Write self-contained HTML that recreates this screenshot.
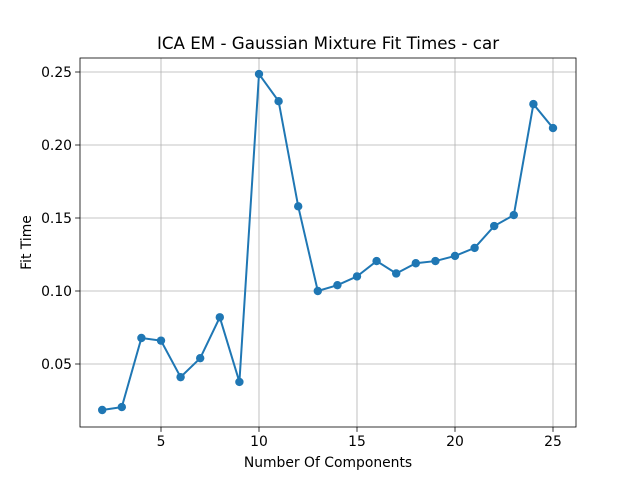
<!DOCTYPE html>
<html><head><meta charset="utf-8"><style>
html,body{margin:0;padding:0;background:#fff;}
svg{display:block;font-family:"DejaVu Sans","Liberation Sans",sans-serif;}
</style></head><body>
<svg id="c" width="640" height="480" viewBox="0 0 640 480"></svg>
<script>
const components=[2,3,4,5,6,7,8,9,10,11,12,13,14,15,16,17,18,19,20,21,22,23,24,25];
const fitTimes=[0.0185,0.0205,0.0678,0.066,0.041,0.054,0.082,0.0377,0.2486,0.230,0.158,0.100,0.104,0.110,0.1205,0.112,0.119,0.1205,0.124,0.1295,0.1445,0.152,0.228,0.2116];
const xTicks=[5,10,15,20,25];
const yTicks=[0.05,0.10,0.15,0.20,0.25];
const yTickLabels=["0.05","0.10","0.15","0.20","0.25"];

const L=80,R=576,T=58,B=427;
function xs(v){return 161+(v-5)*19.6;}
function ys(v){return 72+(0.25-v)*1460;}
const svg=document.getElementById('c');
const NS='http://www.w3.org/2000/svg';
function mk(tag,attrs,parent){const e=document.createElementNS(NS,tag);for(const k in attrs)e.setAttribute(k,attrs[k]);(parent||svg).appendChild(e);return e;}

const grid=mk('g',{});


xTicks.forEach(t=>{
  const x=xs(t);
  mk('line',{x1:x,x2:x,y1:T,y2:B,stroke:'#b0b0b0','stroke-width':0.8},grid);
  const tk=mk('line',{x1:x,x2:x,y1:B,y2:B+4.9,stroke:'#000','stroke-width':0.8});
  
  
  const lb=mk('text',{x:x,y:B+19,'text-anchor':'middle','font-size':13.9,fill:'#000'});
  lb.textContent=t;
  
  
});
yTicks.forEach((t,i)=>{
  const y=ys(t);
  mk('line',{x1:L,x2:R,y1:y,y2:y,stroke:'#b0b0b0','stroke-width':0.8},grid);
  const tk=mk('line',{x1:L-4.9,x2:L,y1:y,y2:y,stroke:'#000','stroke-width':0.8});
  
  
  const lb=mk('text',{x:L-8,y:y+5,'text-anchor':'end','font-size':13.9,fill:'#000'});
  lb.textContent=yTickLabels[i];
  
  
});

const pts=components.map((c,i)=>xs(c)+','+ys(fitTimes[i])).join(' ');
const line=mk('polyline',{points:pts,fill:'none',stroke:'#1f77b4','stroke-width':2});


components.forEach((c,i)=>{
  const p=mk('circle',{cx:xs(c),cy:ys(fitTimes[i]),r:4.2,fill:'#1f77b4'});
  
  
});

const frame=mk('rect',{x:L,y:T,width:R-L,height:B-T,fill:'none',stroke:'#000','stroke-width':0.8});



const title=mk('text',{x:(L+R)/2,y:49,'text-anchor':'middle','font-size':16.7,fill:'#000'});
title.textContent='ICA EM - Gaussian Mixture Fit Times - car';


const xt=mk('text',{x:(L+R)/2,y:467,'text-anchor':'middle','font-size':13.9,fill:'#000'});
xt.textContent='Number Of Components';


const yt=mk('text',{x:0,y:0,'text-anchor':'middle','font-size':13.9,fill:'#000',transform:'translate(31,242.5) rotate(-90)'});
yt.textContent='Fit Time';


</script>
</body></html>
